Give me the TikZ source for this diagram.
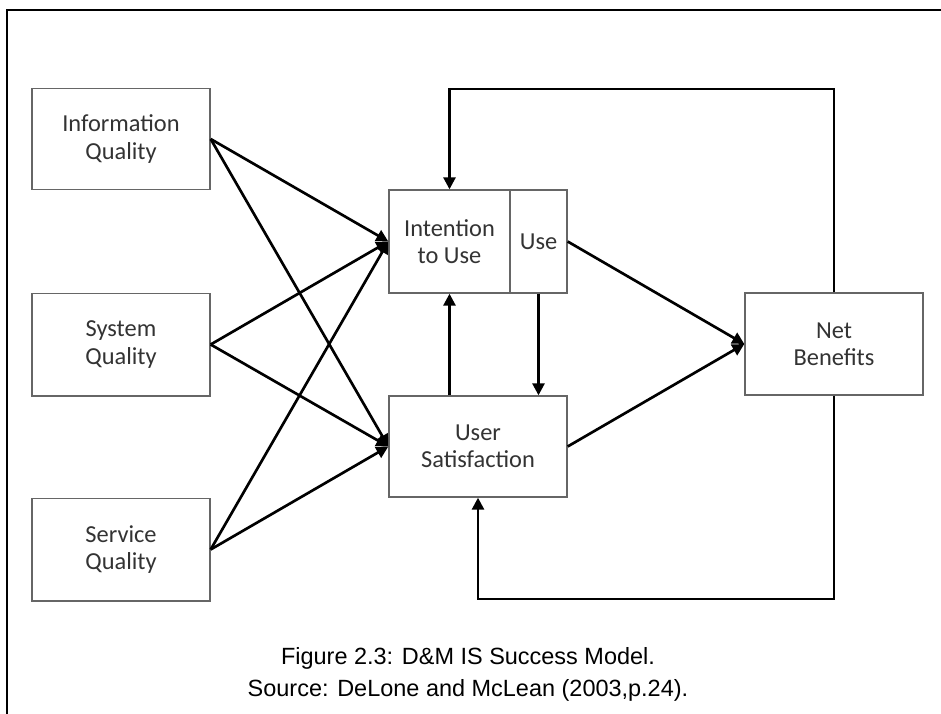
\documentclass[tikz,border=0pt]{standalone}
\usepackage{fontspec}
\setmainfont{Liberation Sans}
\newfontfamily\boxfont{Carlito}
\usetikzlibrary{arrows.meta}
\begin{document}
\begin{tikzpicture}[x=0.75pt,y=-0.75pt,
  construct/.style={draw=black!60,line width=1pt,fill=white,inner sep=0pt,
    align=center,text=black!80,font=\boxfont\fontsize{18.3}{20.5}\selectfont},
  link/.style={draw=black,line width=2pt,-{Triangle[length=9pt,width=9pt]}},
  caption/.style={font=\fontsize{17.6}{24}\selectfont,align=center,text=black}]
\useasboundingbox (0,0) rectangle (941,713);
% outer frame (runs past the right and bottom edges)
\draw[line width=1.6pt] (7,10) rectangle (960,730);

% construct boxes
\node[construct,minimum width=133.5pt,minimum height=75.75pt] (iq) at (121,139) {Information\\Quality};
\node[construct,minimum width=133.5pt,minimum height=77pt] (sq) at (121,344.5) {System\\Quality};
\node[construct,minimum width=133.5pt,minimum height=77pt] (svq) at (121,549.5) {Service\\Quality};
\node[construct,minimum width=90.75pt,minimum height=77.25pt] (itu) at (449.5,241.5) {Intention\\to Use};
\node[construct,minimum width=42.75pt,minimum height=77.25pt] (use) at (538.5,241.5) {Use};
\node[construct,minimum width=133.5pt,minimum height=75.75pt] (us) at (478,446.5) {User\\Satisfaction};
\node[construct,minimum width=133.5pt,minimum height=76.5pt] (nb) at (834,344) {Net\\Benefits};

% quality dimensions into use and satisfaction
\foreach \src in {iq,sq,svq}{
  \draw[link] (\src.east) -- (itu.west);
  \draw[link] (\src.east) -- (us.west);
}

% use and satisfaction into net benefits
\draw[link] (use.east) -- (nb.west);
\draw[link] (us.east) -- (nb.west);

% between intention/use and satisfaction
\draw[link] (us.north -| itu.south) -- (itu.south);
\draw[link] (use.south) -- (us.north -| use.south);

% feedback loops from net benefits
\coordinate (loopTop) at (0,89);
\coordinate (loopBot) at (0,599);
\draw[link] (nb.north) -- (nb.north |- loopTop) -- (itu.north |- loopTop) -- (itu.north);
\draw[link] (nb.south) -- (nb.south |- loopBot) -- (us.south |- loopBot) -- (us.south);

% caption
\node[caption] (cap) at (468,674) {Figure 2.3: D\&M IS Success Model.\\Source: DeLone and McLean (2003,p.24).};
\end{tikzpicture}
\end{document}
